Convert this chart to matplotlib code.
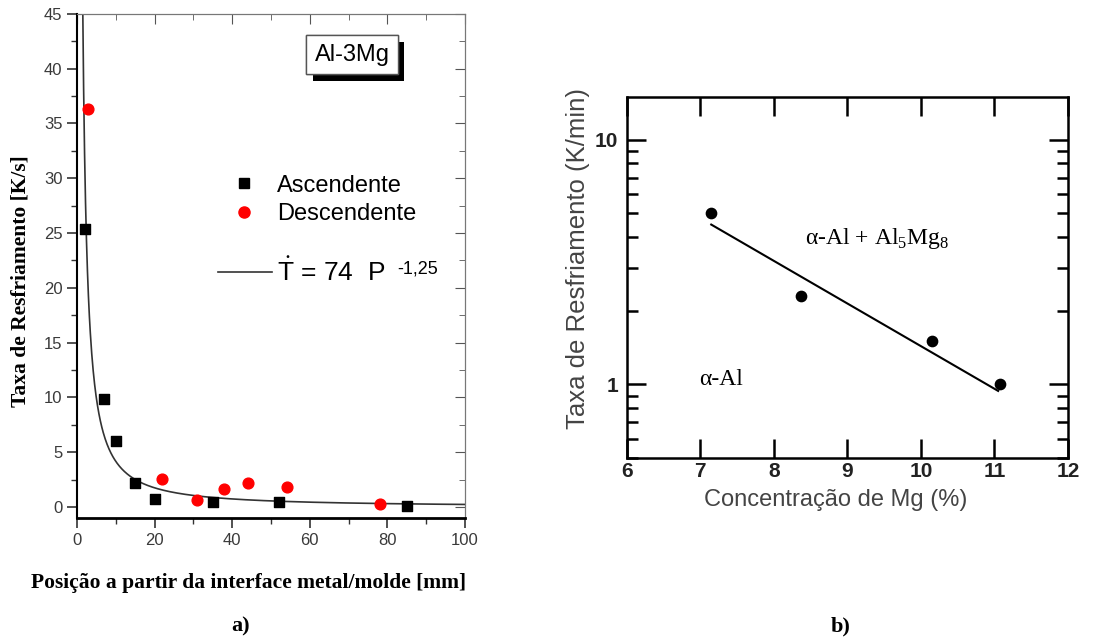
import numpy as np
import matplotlib
matplotlib.use("Agg")
from matplotlib import pyplot as plt
from matplotlib import patheffects
from matplotlib.lines import Line2D
from matplotlib.ticker import MultipleLocator, LogLocator, NullFormatter, FixedLocator, FixedFormatter

plt.rcParams['mathtext.fontset'] = 'custom'
plt.rcParams['mathtext.rm'] = 'Liberation Serif'
plt.rcParams['mathtext.sf'] = 'Liberation Sans'

sans = 'Liberation Sans'
serif = 'Liberation Serif'

# panel a) - Al-3Mg
asc_pos = [2.1, 7.0, 10.0, 15.0, 20.0, 35.0, 52.0, 85.0]
asc_rate = [25.4, 9.9, 6.0, 2.2, 0.75, 0.45, 0.45, 0.1]
desc_pos = [2.7, 22.0, 31.0, 38.0, 44.0, 54.0, 78.0]
desc_rate = [36.3, 2.6, 0.65, 1.65, 2.15, 1.85, 0.25]
fit_coef = 74
fit_exp = -1.25

# panel b) - rate vs Mg
mg_conc = [7.15, 8.37, 10.15, 11.07]
mg_rate = [5.0, 2.3, 1.5, 1.0]
mg_line_x = [7.15, 11.05]
mg_line_y = [4.5, 0.94]

fig = plt.figure(figsize=(11.18, 6.39), dpi=100)

# ---------------- a) ----------------
ax = fig.add_axes([0.0689, 0.1894, 0.347, 0.789])
P = np.linspace(1.45, 100, 800)
ax.plot(P, fit_coef * P ** fit_exp, color='#333333', lw=1.2, clip_on=True)
ax.scatter(asc_pos, asc_rate, marker='s', s=50, color='black', zorder=3)
ax.scatter(desc_pos, desc_rate, marker='o', s=60, color='red', zorder=3)
ax.set_xlim(0, 100)
ax.set_ylim(-1, 45)
ax.xaxis.set_major_locator(MultipleLocator(20))
ax.xaxis.set_minor_locator(MultipleLocator(10))
ax.yaxis.set_major_locator(MultipleLocator(5))
ax.yaxis.set_minor_locator(MultipleLocator(2.5))
ax.tick_params(which='both', direction='out', top=False, right=False,
               labelsize=12, labelcolor='#3a3a3a', colors='#333333')
ax.tick_params(which='major', length=7, width=1.2)
ax.tick_params(which='minor', length=4, width=1.0)
for lab in ax.get_xticklabels() + ax.get_yticklabels():
    lab.set_family(sans)
# inward ticks on top/right
axt = ax.secondary_xaxis('top')
axt.xaxis.set_major_locator(MultipleLocator(20))
axt.xaxis.set_minor_locator(MultipleLocator(10))
axt.tick_params(which='both', direction='in', labeltop=False, colors='#555555')
axt.tick_params(which='major', length=7)
axt.tick_params(which='minor', length=4)
axr = ax.secondary_yaxis('right')
axr.yaxis.set_major_locator(MultipleLocator(5))
axr.yaxis.set_minor_locator(MultipleLocator(2.5))
axr.tick_params(which='both', direction='in', labelright=False, colors='#555555')
axr.tick_params(which='major', length=7)
axr.tick_params(which='minor', length=4)
for s in (axt.spines['top'], axr.spines['right'], ax.spines['top'], ax.spines['right']):
    s.set_color('#777777')
ax.spines['bottom'].set_linewidth(2)
ax.spines['left'].set_linewidth(1.5)

ax.set_ylabel('Taxa de Resfriamento [K/s]', family=serif, weight='bold', fontsize=15.5)
ax.yaxis.set_label_coords(-0.121, 0.47)
ax.set_xlabel('Posição a partir da interface metal/molde [mm]', family=serif,
              weight='bold', fontsize=15.5)
ax.xaxis.set_label_coords(0.443, -0.109)

h1 = [Line2D([], [], ls='none', marker='s', ms=7, color='black'),
      Line2D([], [], ls='none', marker='o', ms=8, color='red')]
leg1 = ax.legend(h1, ['Ascendente', 'Descendente'], loc='center left',
                 bbox_to_anchor=(0.363, 0.631), frameon=False, borderpad=0,
                 borderaxespad=0, handlelength=2.2, handletextpad=0.3,
                 labelspacing=0.27, prop={'family': sans, 'size': 17})
ax.add_artist(leg1)
h2 = [Line2D([], [], color='#333333', lw=1.2)]
ax.legend(h2, [r'$\dot{\mathsf{T}}$ = 74  P'],
          loc='center left', bbox_to_anchor=(0.363, 0.488), frameon=False,
          borderpad=0, borderaxespad=0, handlelength=2.05, handletextpad=0.2,
          prop={'family': sans, 'size': 19})
ax.text(0.825, 0.494, '-1,25', transform=ax.transAxes, family=sans,
        fontsize=13, va='center', ha='left')

t = ax.text(0.709, 0.919, 'Al-3Mg', transform=ax.transAxes, ha='center',
            va='center', family=sans, fontsize=17,
            bbox=dict(boxstyle='square,pad=0.35', fc='white', ec='#555555', lw=1))
t.get_bbox_patch().set_path_effects(
    [patheffects.withSimplePatchShadow(offset=(4.5, -5), shadow_rgbFace='black', alpha=1),
     patheffects.Normal()])

fig.text(0.215, 0.02, 'a)', family=serif, weight='bold', fontsize=16,
         ha='center', va='center')

# ---------------- b) ----------------
bx = fig.add_axes([0.5605, 0.2833, 0.3948, 0.5654])
bx.set_yscale('log')
bx.plot(mg_line_x, mg_line_y, color='black', lw=1.5)
bx.scatter(mg_conc, mg_rate, s=55, color='black', zorder=3)
bx.set_xlim(6, 12)
bx.set_ylim(0.5, 15)
bx.xaxis.set_major_locator(MultipleLocator(1))
bx.yaxis.set_major_locator(FixedLocator([1, 10]))
bx.yaxis.set_major_formatter(FixedFormatter(['1', '10']))
bx.yaxis.set_minor_locator(LogLocator(base=10, subs=np.arange(2, 10)))
bx.yaxis.set_minor_formatter(NullFormatter())
bx.tick_params(which='both', direction='in', top=True, right=True, width=1.8,
               labelsize=15)
bx.tick_params(axis='x', pad=3)
bx.tick_params(axis='y', pad=6)
bx.tick_params(which='major', length=14)
bx.tick_params(which='minor', length=8)
for lab in bx.get_xticklabels() + bx.get_yticklabels():
    lab.set_family(sans)
    lab.set_weight('bold')
    lab.set_color('#222222')
for sp in bx.spines.values():
    sp.set_linewidth(1.8)
bx.set_xlabel('Concentração de Mg (%)', family=sans, fontsize=17, color='#444444')
bx.xaxis.set_label_coords(0.474, -0.085)
bx.set_ylabel('Taxa de Resfriamento (K/min)', family=sans, fontsize=18.5,
              color='#444444')
bx.yaxis.set_label_coords(-0.083, 0.551)

bx.text(8.43, 3.94, r'α-Al + Al$_5$Mg$_8$', family=serif, fontsize=17, va='center')
bx.text(6.98, 1.05, 'α-Al', family=serif, fontsize=17, va='center')

fig.text(0.752, 0.02, 'b)', family=serif, weight='bold', fontsize=16,
         ha='center', va='center')

fig.savefig('out.png', dpi=100)
